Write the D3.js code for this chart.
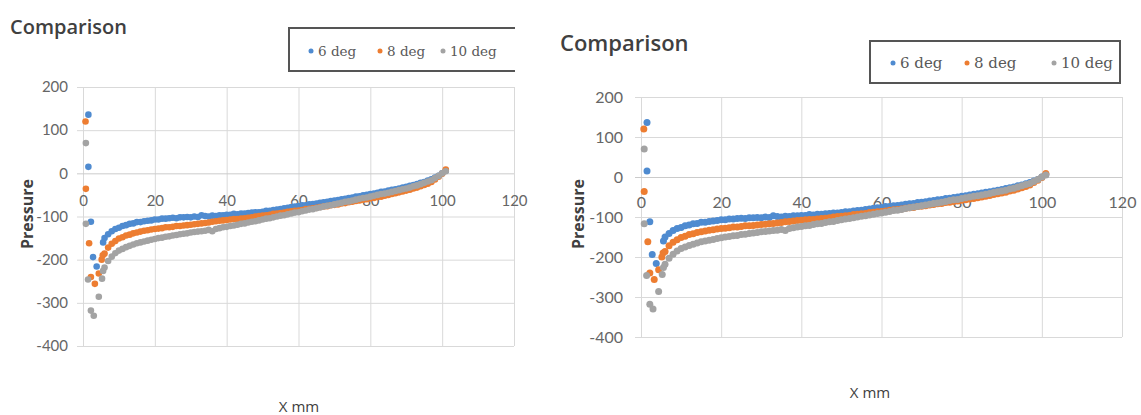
<!DOCTYPE html>
<html>
<head>
<meta charset="utf-8">
<script src="https://cdn.jsdelivr.net/npm/d3@7"></script>
<style>
body{margin:0;background:#fff;}
svg{display:block;}
</style>
</head>
<body>
<svg id="chart" width="1141" height="415"></svg>
<script>
var series_names = ["6 deg", "8 deg", "10 deg"];
var series_colors = ["#4f8bd0", "#ed7d31", "#a3a3a3"];
var x_ticks = [0, 20, 40, 60, 80, 100, 120];
var y_ticks = [200, 100, 0, -100, -200, -300, -400];

// x positions (mm) of the main band, shared by the three series
var x_main = [6,7,8,9,10,11,12,13,14,15,16,17,18,19,20,21,22,23,24,25,
	26,27,28,29,30,31,32,33,34,35,36,37,38,39,40,41,42,43,44,45,
	46,47,48,49,50,51,52,53,54,55,56,57,58,59,60,61,62,63,64,65,
	66,67,68,69,70,71,72,73,74,75,76,77,78,79,80,81,82,83,84,85,
	86,87,88,89,90,91,92,93,94,95,96,97,98,99,100,101];

var deg6 = [-150,-141,-134,-129,-126,-122,-120,-117,-116,-113,
	-113,-111,-110,-109,-107,-107,-105,-105,-104,-103,
	-104,-102,-102,-101,-102,-100,-101,-97,-99,-100,
	-98,-99,-97,-97,-96,-96,-94,-95,-93,-93,
	-92,-91,-90,-90,-89,-87,-87,-85,-84,-83,
	-81,-80,-78,-77,-76,-74,-74,-72,-71,-70,
	-68,-67,-66,-64,-63,-62,-60,-59,-57,-56,
	-54,-53,-51,-50,-48,-47,-45,-43,-42,-40,
	-38,-37,-35,-33,-31,-29,-27,-25,-22,-20,
	-17,-14,-10,-6,0,6];

var deg8 = [-186,-172,-163,-157,-151,-148,-144,-142,-139,-137,
	-135,-133,-132,-130,-129,-128,-127,-125,-125,-124,
	-122,-122,-121,-120,-119,-118,-117,-116,-115,-114,
	-112,-111,-110,-109,-108,-107,-106,-106,-105,-104,
	-103,-102,-100,-99,-98,-97,-96,-94,-93,-92,
	-91,-89,-88,-87,-86,-85,-83,-82,-81,-80,
	-78,-77,-76,-74,-73,-72,-70,-69,-67,-66,
	-64,-63,-61,-60,-58,-57,-55,-54,-52,-50,
	-48,-46,-44,-42,-40,-38,-35,-33,-30,-27,
	-24,-20,-14,-8,-1,9];

var deg10 = [-218,-203,-193,-185,-179,-175,-171,-168,-165,-162,
	-160,-158,-156,-154,-152,-150,-149,-147,-146,-144,
	-143,-141,-140,-139,-137,-136,-135,-134,-133,-131,
	-134,-129,-127,-125,-124,-122,-121,-119,-117,-116,
	-114,-112,-111,-109,-107,-105,-104,-102,-100,-98,
	-97,-95,-93,-91,-90,-88,-86,-84,-83,-81,
	-79,-77,-75,-74,-72,-70,-68,-66,-65,-63,
	-61,-59,-57,-56,-54,-52,-50,-48,-47,-45,
	-43,-41,-39,-37,-35,-33,-30,-28,-25,-22,
	-19,-16,-11,-6,0,5];

// scattered points before the band starts, [x mm, pressure]
var deg6_head = [[1.5,136],[1.5,15],[2.2,-112],[2.8,-194],[3.8,-216],[5.6,-160]];
var deg8_head = [[0.7,120],[0.8,-36],[1.7,-162],[2.2,-240],[3.3,-256],[4.4,-232],[5.2,-200],[5.5,-190]];
var deg10_head = [[0.8,70],[0.8,-117],[1.4,-246],[2.2,-318],[3.0,-330],[4.4,-286],[5.3,-244],[5.6,-226]];

var series_values = [deg6, deg8, deg10];
var series_heads = [deg6_head, deg8_head, deg10_head];

var svg = d3.select("#chart");

draw_chart(svg, {
	left: 83, right: 514, top: 87, bottom: 346,
	tick_font: 15, tick_pad: 15, xlab_dy: 27,
	title: {x: 10, y: 27, size: 20},
	ytitle: {x: 27, y: 214, size: 16},
	xtitle: {x: 299, y: 407, size: 15},
	legend: {box: [289, 28, 515, 71], open: true, y: 51, size: 13.5,
		marks: [311, 380, 443]},
	r: 3.3
});

draw_chart(svg, {
	left: 641, right: 1122, top: 97, bottom: 337,
	tick_font: 16, tick_pad: 18, xlab_dy: 25,
	title: {x: 560, y: 43, size: 22},
	ytitle: {x: 578, y: 214, size: 16},
	xtitle: {x: 870, y: 393, size: 15},
	legend: {box: [870, 41, 1120, 83], open: false, y: 63, size: 15,
		marks: [893, 967, 1054]},
	r: 3.5
});

function draw_chart(svg, opt){
	var x = d3.scaleLinear().domain([0, 120]).range([opt.left, opt.right]);
	var y = d3.scaleLinear().domain([-400, 200]).range([opt.bottom, opt.top]);
	var g = svg.append("g");
	var plain = function(d){ return String(d); };

	// vertical gridlines
	g.append("g")
		.attr("transform", "translate(0," + opt.bottom + ")")
		.call(d3.axisBottom(x).tickValues(x_ticks).tickSize(-(opt.bottom - opt.top)).tickFormat(""))
		.call(function(a){
			a.select(".domain").remove();
			a.selectAll("line").attr("stroke", "#d9d9d9");
		});

	// horizontal gridlines + y labels
	g.append("g")
		.attr("transform", "translate(" + opt.left + ",0)")
		.call(d3.axisLeft(y).tickValues(y_ticks).tickFormat(plain)
			.tickSize(-(opt.right - opt.left)).tickPadding(opt.tick_pad))
		.call(function(a){
			a.select(".domain").remove();
			a.selectAll("line").attr("x1", -6)
				.attr("stroke", function(d){ return d === 0 ? "#cbcbcb" : "#d9d9d9"; });
			a.selectAll("text")
				.attr("font-family", "Lato, 'Open Sans', sans-serif")
				.attr("font-size", opt.tick_font)
				.attr("fill", "#666");
		});

	// x labels sit under the zero line
	g.append("g")
		.attr("transform", "translate(0," + y(0) + ")")
		.call(d3.axisBottom(x).tickValues(x_ticks).tickFormat(plain).tickSize(0))
		.call(function(a){
			a.select(".domain").remove();
			a.selectAll("text")
				.attr("y", opt.xlab_dy)
				.attr("dy", "0.35em")
				.attr("font-family", "Lato, 'Open Sans', sans-serif")
				.attr("font-size", opt.tick_font)
				.attr("fill", "#666");
		});

	series_values.forEach(function(vals, i){
		var pts = series_heads[i].concat(d3.zip(x_main, vals));
		g.append("g").selectAll("circle")
			.data(pts)
			.enter().append("circle")
			.attr("cx", function(d){ return x(d[0]); })
			.attr("cy", function(d){ return y(d[1]); })
			.attr("r", opt.r)
			.attr("fill", series_colors[i]);
	});

	g.append("text")
		.attr("x", opt.title.x).attr("y", opt.title.y)
		.attr("dy", "0.35em")
		.attr("font-family", "'Open Sans', sans-serif")
		.attr("font-weight", 600)
		.attr("font-size", opt.title.size)
		.attr("fill", "#404040")
		.text("Comparison");

	g.append("text")
		.attr("transform", "translate(" + opt.ytitle.x + "," + opt.ytitle.y + ") rotate(-90)")
		.attr("text-anchor", "middle")
		.attr("dy", "0.35em")
		.attr("font-family", "'Open Sans', sans-serif")
		.attr("font-weight", 700)
		.attr("font-size", opt.ytitle.size)
		.attr("fill", "#404040")
		.text("Pressure");

	g.append("text")
		.attr("x", opt.xtitle.x).attr("y", opt.xtitle.y)
		.attr("text-anchor", "middle")
		.attr("dy", "0.35em")
		.attr("font-family", "'Open Sans', sans-serif")
		.attr("font-size", opt.xtitle.size)
		.attr("fill", "#404040")
		.text("X mm");

	var b = opt.legend.box;
	if(opt.legend.open){
		g.append("path")
			.attr("d", "M" + b[2] + "," + b[1] + "H" + b[0] + "V" + b[3] + "H" + b[2])
			.attr("fill", "none").attr("stroke", "#555").attr("stroke-width", 2);
	}
	else {
		g.append("rect")
			.attr("x", b[0]).attr("y", b[1])
			.attr("width", b[2] - b[0]).attr("height", b[3] - b[1])
			.attr("fill", "#fff").attr("stroke", "#555").attr("stroke-width", 2);
	}
	var items = g.append("g").selectAll("g")
		.data(series_names)
		.enter().append("g")
		.attr("transform", function(d, i){ return "translate(" + opt.legend.marks[i] + "," + opt.legend.y + ")"; });
	items.append("circle")
		.attr("r", 2.5)
		.attr("fill", function(d, i){ return series_colors[i]; });
	items.append("text")
		.attr("x", 7)
		.attr("dy", "0.35em")
		.attr("font-family", "'DejaVu Serif', serif")
		.attr("font-size", opt.legend.size)
		.attr("fill", "#595959")
		.text(function(d){ return d; });
}
</script>
</body>
</html>
